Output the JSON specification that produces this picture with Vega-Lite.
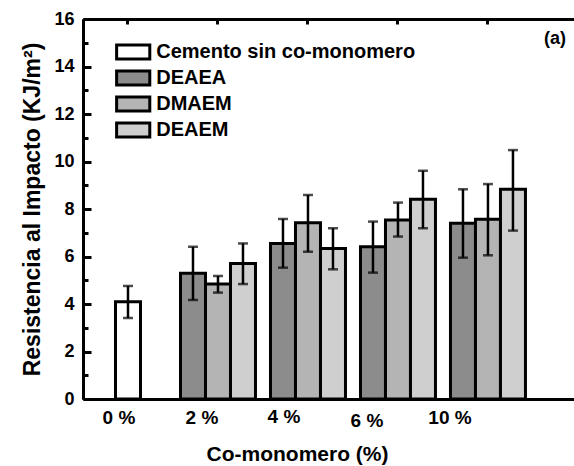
{
  "$schema": "https://vega.github.io/schema/vega-lite/v6.json",
  "width": 491,
  "height": 380,
  "autosize": {"type": "none"},
  "padding": {"left": 83, "top": 19, "right": 0, "bottom": 67},
  "background": "white",
  "config": {
    "view": {"stroke": null},
    "font": "Liberation Sans",
    "axis": {"grid": false, "domainColor": "black", "domainWidth": 3, "tickColor": "black", "tickWidth": 3, "labelColor": "black", "titleColor": "black", "labelFont": "Liberation Sans", "titleFont": "Liberation Sans", "labelFontWeight": "bold", "titleFontWeight": "bold"}
  },
  "title": {"text": "(a)", "anchor": "end", "frame": "group", "orient": "top", "offset": -38, "dx": -8, "fontSize": 18, "fontWeight": "bold", "font": "Liberation Sans", "color": "black"},
  "data": {
    "values": [
      {"c": "0 %", "s": "Cemento sin co-monomero", "v": 4.1, "lo": 3.41, "hi": 4.76},
      {"c": "2 %", "s": "DEAEA", "v": 5.3, "lo": 4.17, "hi": 6.41},
      {"c": "2 %", "s": "DMAEM", "v": 4.84, "lo": 4.48, "hi": 5.18},
      {"c": "2 %", "s": "DEAEM", "v": 5.71, "lo": 4.84, "hi": 6.55},
      {"c": "4 %", "s": "DEAEA", "v": 6.55, "lo": 5.53, "hi": 7.58},
      {"c": "4 %", "s": "DMAEM", "v": 7.42, "lo": 6.2, "hi": 8.59},
      {"c": "4 %", "s": "DEAEM", "v": 6.34, "lo": 5.46, "hi": 7.19},
      {"c": "6 %", "s": "DEAEA", "v": 6.41, "lo": 5.32, "hi": 7.47},
      {"c": "6 %", "s": "DMAEM", "v": 7.54, "lo": 6.84, "hi": 8.27},
      {"c": "6 %", "s": "DEAEM", "v": 8.41, "lo": 7.19, "hi": 9.61},
      {"c": "10 %", "s": "DEAEA", "v": 7.4, "lo": 5.95, "hi": 8.83},
      {"c": "10 %", "s": "DMAEM", "v": 7.57, "lo": 6.05, "hi": 9.05},
      {"c": "10 %", "s": "DEAEM", "v": 8.83, "lo": 7.09, "hi": 10.48}
    ]
  },
  "layer": [
    {
      "transform": [{"filter": "datum.s != 'Cemento sin co-monomero'"}],
      "mark": {"type": "bar", "stroke": "black", "strokeWidth": 3},
      "encoding": {
        "x": {"field": "c", "type": "nominal", "sort": ["0 %", "2 %", "4 %", "6 %", "10 %"],
          "scale": {"domain": ["0 %", "2 %", "4 %", "6 %", "10 %"], "paddingInner": 0, "paddingOuter": 0.228, "align": 0},
          "axis": {"orient": "bottom", "title": "Co-monomero (%)", "titleFontSize": 21, "titleX": 214, "titlePadding": 13, "labelFontSize": 19, "labelAngle": 0, "tickSize": -7,
            "labelPadding": {"condition": [
              {"test": "datum.value == '4 %'", "value": 15},
              {"test": "datum.value == '6 %'", "value": 19}
            ], "value": 16},
            "labelOffset": {"condition": [
              {"test": "datum.value == '0 %'", "value": -9},
              {"test": "datum.value == '2 %'", "value": -16},
              {"test": "datum.value == '4 %'", "value": -24},
              {"test": "datum.value == '6 %'", "value": -31}
            ], "value": -38}}},
        "xOffset": {"field": "s", "type": "nominal", "scale": {"domain": ["DEAEA", "DMAEM", "DEAEM"], "paddingInner": 0, "paddingOuter": 0.3}},
        "y": {"field": "v", "type": "quantitative", "scale": {"domain": [0, 16], "nice": false},
          "axis": {"orient": "left", "title": "Resistencia al Impacto (KJ/m²)", "titleFontSize": 23, "titlePadding": 9, "labelFontSize": 18, "values": [0, 2, 4, 6, 8, 10, 12, 14, 16], "tickSize": -8, "labelPadding": 17}},
        "fill": {"field": "s", "type": "nominal",
          "scale": {"domain": ["Cemento sin co-monomero", "DEAEA", "DMAEM", "DEAEM"], "range": ["white", "#8c8c8c", "#b4b4b4", "#cfcfcf"]},
          "legend": {"orient": "none", "legendX": 40.2, "legendY": 23, "title": null, "symbolType": "M-2.4,-1H2.4V1H-2.4Z", "symbolSize": 191, "symbolStrokeColor": "black", "symbolStrokeWidth": 3, "labelFontSize": 20, "labelFontWeight": "bold", "labelColor": "black", "labelFont": "Liberation Sans", "labelOffset": 13, "labelLimit": 0, "rowPadding": 0, "padding": 0}}
      }
    },
    {
      "transform": [{"filter": "datum.s == 'Cemento sin co-monomero'"}],
      "mark": {"type": "bar", "stroke": "black", "strokeWidth": 3, "width": 25},
      "encoding": {
        "x": {"field": "c", "type": "nominal", "sort": ["0 %", "2 %", "4 %", "6 %", "10 %"],
          "axis": {"orient": "top", "title": null, "labels": false, "tickSize": -5}},
        "y": {"field": "v", "type": "quantitative",
          "axis": {"orient": "left", "title": null, "labels": false, "values": [1, 3, 5, 7, 9, 11, 13, 15], "tickSize": -5}},
        "fill": {"field": "s", "type": "nominal"}
      }
    },
    {
      "transform": [{"filter": "datum.s != 'Cemento sin co-monomero'"}],
      "mark": {"type": "rule", "color": "black", "strokeWidth": 2.5},
      "encoding": {
        "x": {"field": "c", "type": "nominal", "sort": ["0 %", "2 %", "4 %", "6 %", "10 %"], "axis": null},
        "xOffset": {"field": "s", "type": "nominal"},
        "y": {"field": "lo", "type": "quantitative", "axis": null},
        "y2": {"field": "hi"}
      }
    },
    {
      "transform": [{"filter": "datum.s != 'Cemento sin co-monomero'"}, {"fold": ["lo", "hi"], "as": ["k", "e"]}],
      "mark": {"type": "tick", "color": "black", "thickness": 2.5, "size": 10},
      "encoding": {
        "x": {"field": "c", "type": "nominal", "sort": ["0 %", "2 %", "4 %", "6 %", "10 %"], "axis": null},
        "xOffset": {"field": "s", "type": "nominal"},
        "y": {"field": "e", "type": "quantitative", "axis": null}
      }
    },
    {
      "transform": [{"filter": "datum.s == 'Cemento sin co-monomero'"}],
      "mark": {"type": "rule", "color": "black", "strokeWidth": 2.5},
      "encoding": {
        "x": {"field": "c", "type": "nominal", "sort": ["0 %", "2 %", "4 %", "6 %", "10 %"], "axis": null},
        "y": {"field": "lo", "type": "quantitative", "axis": null},
        "y2": {"field": "hi"}
      }
    },
    {
      "transform": [{"filter": "datum.s == 'Cemento sin co-monomero'"}, {"fold": ["lo", "hi"], "as": ["k", "e"]}],
      "mark": {"type": "tick", "color": "black", "thickness": 2.5, "size": 10},
      "encoding": {
        "x": {"field": "c", "type": "nominal", "sort": ["0 %", "2 %", "4 %", "6 %", "10 %"], "axis": null},
        "y": {"field": "e", "type": "quantitative", "axis": null}
      }
    }
  ],
  "resolve": {"axis": {"x": "independent", "y": "independent"}}
}
